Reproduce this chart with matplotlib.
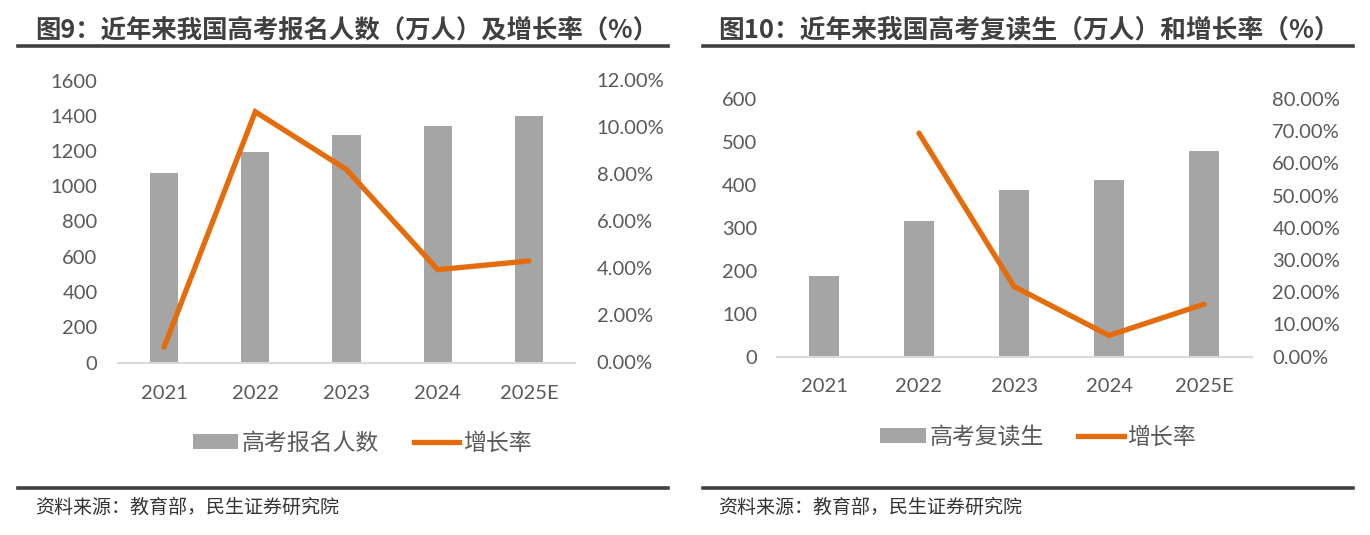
import matplotlib
matplotlib.use("Agg")
import matplotlib.pyplot as plt
import numpy as np
from matplotlib.lines import Line2D
from matplotlib.patches import Patch
from matplotlib.ticker import FuncFormatter, MultipleLocator

plt.rcParams['font.family'] = ['Noto Sans CJK SC', 'DejaVu Sans']

# ---- data ----
years = ["2021", "2022", "2023", "2024", "2025E"]
applicants = [1078, 1193, 1291, 1342, 1400]
applicants_growth = [0.0065, 0.1067, 0.0821, 0.0395, 0.0432]
repeaters = [188, 317, 387, 412, 480]
repeaters_growth = [np.nan, 0.694, 0.218, 0.066, 0.163]

title_left = "图9：近年来我国高考报名人数（万人）及增长率（%）"
title_right = "图10：近年来我国高考复读生（万人）和增长率（%）"
legend_left = ["高考报名人数", "增长率"]
legend_right = ["高考复读生", "增长率"]
source = "资料来源：教育部，民生证券研究院"

BAR = "#A5A5A5"
LINE = "#E46C0A"
TICK = "#595959"
DARK = "#404040"
NUMFONT = ["Lato", "DejaVu Sans"]
TS = 14.5

W, H = 1370, 535
fig = plt.figure(figsize=(W / 100, H / 100), dpi=100)
fig.patch.set_facecolor("white")


def fx(px):
    return px / W


def fy(py):
    return 1 - py / H


def make_panel(x0, x1, ytop, ybot, vals, growth, ymax, ystep, gmax, gstep, lpad, rpad, xpad):
    ax = fig.add_axes([fx(x0), fy(ybot), fx(x1 - x0), (ybot - ytop) / H])
    x = np.arange(len(years))
    ax.bar(x, vals, width=0.31, color=BAR, zorder=2)
    ax.set_xlim(-0.5, len(years) - 0.5)
    ax.set_ylim(0, ymax)
    ax.yaxis.set_major_locator(MultipleLocator(ystep))
    ax.set_xticks(x)
    ax.set_xticklabels(years)
    for s in ["top", "left", "right"]:
        ax.spines[s].set_visible(False)
    ax.spines["bottom"].set_color("#D9D9D9")
    ax.spines["bottom"].set_linewidth(1.5)
    ax.tick_params(axis="both", length=0, colors=TICK, labelsize=TS)
    ax.tick_params(axis="y", pad=lpad)
    ax.tick_params(axis="x", pad=xpad)
    for lab in ax.get_xticklabels() + ax.get_yticklabels():
        lab.set_family(NUMFONT)
    ax2 = ax.twinx()
    ax2.plot(x, growth, color=LINE, lw=3.8, solid_capstyle="round", solid_joinstyle="miter", zorder=3)
    ax2.set_ylim(0, gmax)
    ax2.yaxis.set_major_locator(MultipleLocator(gstep))
    ax2.yaxis.set_major_formatter(FuncFormatter(lambda v, p: f"{v * 100:.2f}%"))
    for s in ["top", "left", "right", "bottom"]:
        ax2.spines[s].set_visible(False)
    ax2.tick_params(axis="y", length=0, colors=TICK, labelsize=TS, pad=rpad)
    for lab in ax2.get_yticklabels():
        lab.set_family(NUMFONT)
    return ax, ax2


make_panel(118.4, 574.6, 80.5, 362.5, applicants, applicants_growth, 1600, 200, 0.12, 0.02, 15, 16, 16)
make_panel(776.5, 1251.5, 99, 356.7, repeaters, repeaters_growth, 600, 100, 0.8, 0.1, 14, 15, 15.5)

# titles and rules
fig.text(fx(35), fy(30), title_left, fontsize=18.3, fontweight="bold", color=DARK, va="center", ha="left")
fig.text(fx(718), fy(30), title_right, fontsize=18.5, fontweight="bold", color=DARK, va="center", ha="left")
for a, b in [(18, 668), (703, 1353)]:
    fig.add_artist(Line2D([fx(a), fx(b)], [fy(46), fy(46)], lw=2.6, color=DARK))
    fig.add_artist(Line2D([fx(a), fx(b)], [fy(488), fy(488)], lw=2.6, color=DARK))

fig.text(fx(35), fy(507), source, fontsize=13.7, color="#333333", va="center", ha="left")
fig.text(fx(718), fy(507), source, fontsize=13.7, color="#333333", va="center", ha="left")

# legends
for labels, cx, cy in [(legend_left, 362, 443), (legend_right, 1038, 437)]:
    handles = [Patch(facecolor=BAR, edgecolor="none"), Line2D([0], [0], color=LINE, lw=3.8)]
    lg = fig.legend(handles, labels, loc="center", bbox_to_anchor=(fx(cx), fy(cy)), ncol=2,
                    frameon=False, fontsize=16.5, handlelength=2.0, handleheight=0.6,
                    handletextpad=0.15, columnspacing=1.5)
    for t in lg.get_texts():
        t.set_color(TICK)

fig.savefig("out.png", dpi=100, facecolor="white")
